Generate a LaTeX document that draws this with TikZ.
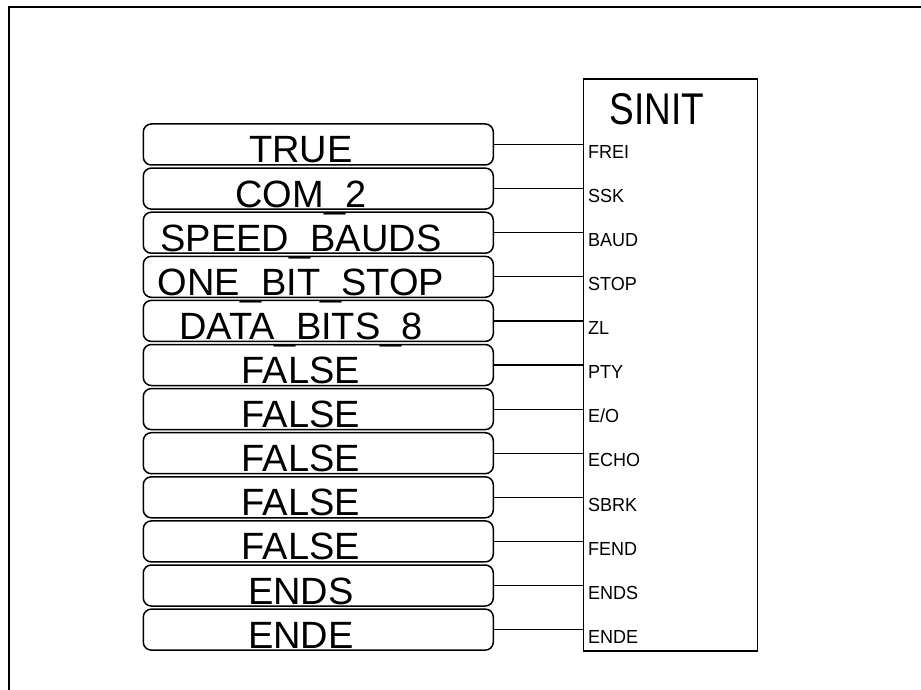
\documentclass[tikz,border=0pt]{standalone}
\usepackage{fontspec}
\setmainfont{Liberation Sans}
\begin{document}
\begin{tikzpicture}[x=1pt,y=-1pt,
  valbox/.style={draw, line width=1.5pt, rounded corners=8pt, minimum width=350pt, minimum height=41pt, inner sep=0pt},
  valtext/.style={anchor=base, inner sep=0pt, font=\fontsize{38}{38}\selectfont},
  pinlabel/.style={anchor=base west, inner sep=0pt, font=\fontsize{18}{18}\selectfont},
  wire/.style={line width=1.2pt},
  block/.style={draw, line width=1.6pt, minimum width=174pt, minimum height=572pt, inner sep=0pt}]
\useasboundingbox (0,0) rectangle (921,690);
\draw[line width=2.6pt] (9,700) -- (9,7) -- (930,7);
\node[block] (sinit) at (670.5,365) {};
\node[anchor=base, inner sep=0pt, font=\fontsize{37}{37}\selectfont] (title) at (657,124.3) {\scalebox{1}[1.2]{SINIT}};
\foreach \i/\v/\p [count=\n from 0] in {1/TRUE/FREI, 2/COM\_2/SSK, 3/SPEED\_BAUDS/BAUD, 4/ONE\_BIT\_STOP/STOP, 5/DATA\_BITS\_8/ZL, 6/FALSE/PTY, 7/FALSE/E{/}O, 8/FALSE/ECHO, 9/FALSE/SBRK, 10/FALSE/FEND, 11/ENDS/ENDS, 12/ENDE/ENDE} {
  \pgfmathsetmacro{\yt}{124+44.1*\n}
  \node[valbox] (b\i) at (318.3,\yt+20.5) {};
  \node[valtext] (t\i) at (301,\yt+39) {\v};
  \draw[wire] (b\i.east) -- (b\i.east -| sinit.west);
  \node[pinlabel] (p\i) at (588,\yt+20.5+13.7) {\scalebox{1}[1.05]{\p}};
}
\end{tikzpicture}
\end{document}
